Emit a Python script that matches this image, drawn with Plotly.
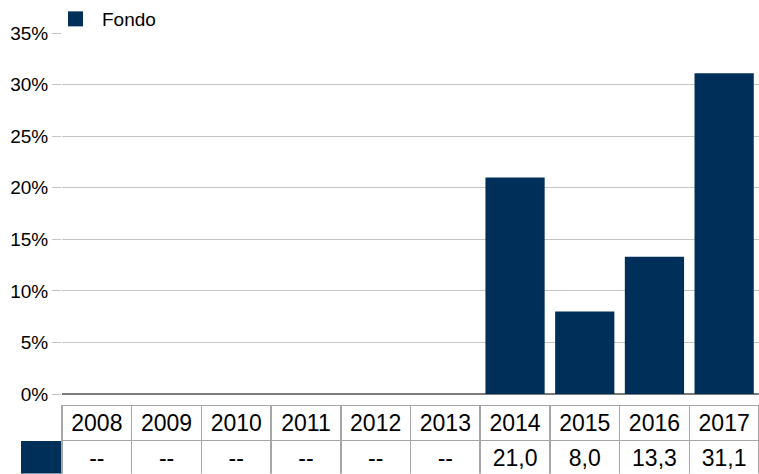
import plotly.graph_objects as go

years = ["2008", "2009", "2010", "2011", "2012", "2013", "2014", "2015", "2016", "2017"]
fondo = [None, None, None, None, None, None, 21.0, 8.0, 13.3, 31.1]
series_name = "Fondo"
y_ticks = [0, 5, 10, 15, 20, 25, 30, 35]
y_tick_labels = ["0%", "5%", "10%", "15%", "20%", "25%", "30%", "35%"]

NAVY = "#00305a"
GRID = "#c4c4c4"
FONT = "Liberation Sans, Arial, sans-serif"
W, H = 759, 474


def fmt(v):
    return "--" if v is None else f"{v:.1f}".replace(".", ",")


fig = go.Figure()
fig.add_trace(go.Bar(
    x=years, y=fondo, marker=dict(color=NAVY, line=dict(width=0)),
    showlegend=False, name=series_name,
))
fig.add_trace(go.Scatter(
    x=[None], y=[None], mode="markers", name=series_name,
    marker=dict(symbol="square", size=15, color=NAVY),
))

header_vals = [""] + years
cell_vals = [[""]] + [[fmt(v)] for v in fondo]
fig.add_trace(go.Table(
    domain=dict(x=[22 / W, 1.0], y=[0, 68.5 / H]),
    columnwidth=[40] + [69.7] * len(years),
    header=dict(
        values=header_vals, height=35, align="center",
        font=dict(family=FONT, size=23, color="black"),
        fill=dict(color="white"),
        line=dict(color=["white"] + ["#a6a6a6"] * len(years), width=1.5),
    ),
    cells=dict(
        values=cell_vals, height=34, align="center",
        font=dict(family=FONT, size=23, color="black"),
        fill=dict(color=[[NAVY]] + [["white"]] * len(years)),
        line=dict(color=[[NAVY]] + [["#a6a6a6"]] * len(years), width=1.5),
    ),
))

fig.update_layout(
    width=W, height=H, autosize=False,
    margin=dict(l=0, r=0, t=0, b=0, pad=0, autoexpand=False),
    paper_bgcolor="white", plot_bgcolor="white",
    font=dict(family=FONT, size=19, color="black"),
    bargap=0.15,
    legend=dict(
        x=49 / W, y=1.0, xanchor="left", yanchor="top",
        font=dict(family=FONT, size=19, color="black"),
        bgcolor="rgba(0,0,0,0)", itemwidth=43,
    ),
    xaxis=dict(
        domain=[62 / W, 1.0], type="category", showticklabels=False,
        showgrid=False, zeroline=False, showline=False, ticks="",
        automargin=False,
    ),
    yaxis=dict(
        domain=[(H - 394) / H, (H - 33) / H], range=[0, 35],
        tickvals=y_ticks, ticktext=y_tick_labels,
        showgrid=True, gridcolor=GRID, gridwidth=1.3,
        ticks="outside", ticklen=9, tickcolor=GRID, tickwidth=1.3,
        zeroline=True, zerolinecolor="#7a7a7a", zerolinewidth=1.5,
        showline=False, tickfont=dict(family=FONT, size=19, color="black"),
        automargin=False,
    ),
)

fig.write_html(
    "out.html",
    config={"displayModeBar": False},
    post_script="document.body.style.margin='0';document.body.style.overflow='hidden';",
)
